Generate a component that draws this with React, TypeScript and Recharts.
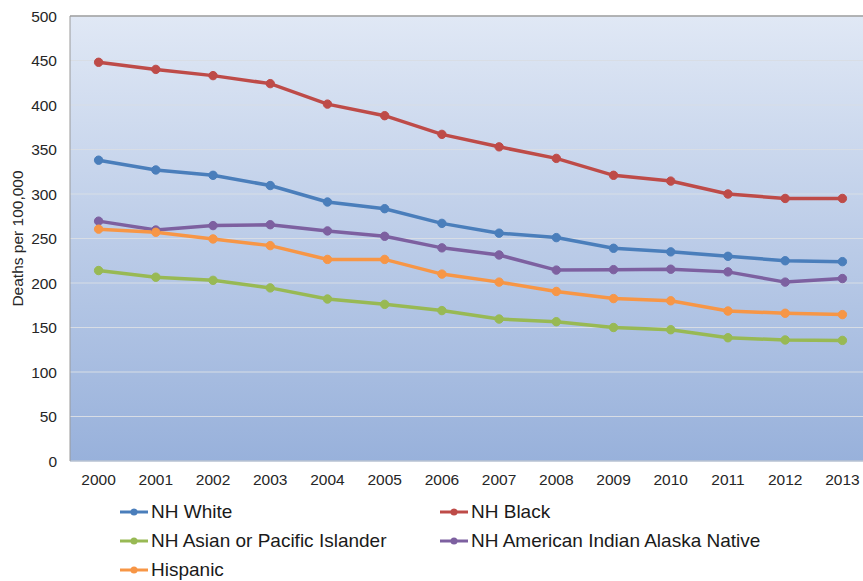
import React from 'react';
import { LineChart, Line, XAxis, YAxis, CartesianGrid, Legend, ReferenceLine } from 'recharts';

const years = ['2000', '2001', '2002', '2003', '2004', '2005', '2006', '2007', '2008', '2009', '2010', '2011', '2012', '2013'];
const nhWhite = [338, 327, 321, 309.5, 291, 283.5, 267, 256, 251, 239, 235, 230, 225, 224];
const nhBlack = [448, 440, 433, 424, 401, 388, 367, 353, 340, 321, 314.5, 300, 295, 295];
const nhAsian = [214, 206.5, 203, 194.5, 182, 176, 169, 159.5, 156.5, 150, 147.5, 138.5, 136, 135.5];
const nhAIAN = [269.5, 259.5, 264.5, 265.5, 258.5, 252.5, 239.5, 231.5, 214.5, 215, 215.5, 212.5, 201, 205];
const hispanic = [260.5, 257, 249.5, 242, 226.5, 226.5, 210, 201, 190.5, 182.5, 180, 168.5, 166, 164.5];
const yTicks = [0, 50, 100, 150, 200, 250, 300, 350, 400, 450, 500];

const series = [
  { key: 'white', name: 'NH White', color: '#4A7EBB', values: nhWhite },
  { key: 'black', name: 'NH Black', color: '#BE4B48', values: nhBlack },
  { key: 'asian', name: 'NH Asian or Pacific Islander', color: '#98B954', values: nhAsian },
  { key: 'aian', name: 'NH American Indian Alaska Native', color: '#7D60A0', values: nhAIAN },
  { key: 'hisp', name: 'Hispanic', color: '#F79646', values: hispanic },
];

const data = years.map((y, i) => {
  const row: any = { year: y };
  series.forEach((s) => { row[s.key] = s.values[i]; });
  return row;
});

const FONT = '"Liberation Sans", Arial, sans-serif';

const renderLegend = () => (
  <div style={{ position: 'relative', width: 880, height: 90, fontFamily: FONT, fontSize: 19, color: '#1a1a1a' }}>
    {series.map((s, i) => {
      const col = i % 2;
      const row = Math.floor(i / 2);
      const left = col === 0 ? 120 : 440;
      const top = 21 + row * 29;
      return (
        <div key={s.key} style={{ position: 'absolute', left, top: top - 12, height: 24, display: 'flex', alignItems: 'center', whiteSpace: 'nowrap' }}>
          <svg width={28} height={10} style={{ marginRight: 3 }}>
            <line x1={0} y1={5} x2={28} y2={5} stroke={s.color} strokeWidth={3} />
            <circle cx={14} cy={5} r={3.5} fill={s.color} />
          </svg>
          <span>{s.name}</span>
        </div>
      );
    })}
  </div>
);

export default function App() {
  return (
    <div style={{ position: 'absolute', left: 0, top: 0, width: 863, height: 581, overflow: 'hidden', background: '#fff' }}>
      <LineChart width={880} height={581} data={data} margin={{ top: 16, right: 9, bottom: 0, left: 0 }}>
        <defs>
          <linearGradient id="plotBg" x1="0" y1="0" x2="0" y2="1">
            <stop offset="0%" stopColor="#E0E8F5" />
            <stop offset="100%" stopColor="#98B1DB" />
          </linearGradient>
        </defs>
        <CartesianGrid vertical={false} stroke="#D8DDE5" strokeWidth={1.2} fill="url(#plotBg)" fillOpacity={1} />
        <XAxis
          dataKey="year"
          height={30}
          tickSize={0}
          tickMargin={13}
          padding={{ left: 28.6, right: 28.6 }}
          axisLine={{ stroke: '#A8B4C8' }}
          tick={{ fontFamily: FONT, fontSize: 15.5, fill: '#262626' }}
          interval={0}
        />
        <YAxis
          width={70}
          domain={[0, 500]}
          ticks={yTicks}
          tickSize={0}
          tickMargin={13}
          axisLine={{ stroke: '#999999' }}
          tick={{ fontFamily: FONT, fontSize: 15.5, fill: '#262626' }}
          label={{
            content: () => (
              <text x={17} y={238.5} transform="rotate(-90 17 238.5)" textAnchor="middle" dominantBaseline="central" style={{ fontFamily: FONT, fontSize: 15.5, fill: '#262626' }}>
                Deaths per 100,000
              </text>
            ),
          }}
        />
        <ReferenceLine y={500} stroke="#A0A0A0" strokeWidth={1.5} />
        <Legend verticalAlign="bottom" content={renderLegend} wrapperStyle={{ left: 0, width: 880, height: 90 }} />
        {series.map((s) => (
          <Line
            key={s.key}
            type="linear"
            dataKey={s.key}
            name={s.name}
            stroke={s.color}
            strokeWidth={3.5}
            dot={{ r: 4.2, fill: s.color, stroke: s.color, strokeWidth: 1 }}
            isAnimationActive={false}
          />
        ))}
      </LineChart>
    </div>
  );
}
